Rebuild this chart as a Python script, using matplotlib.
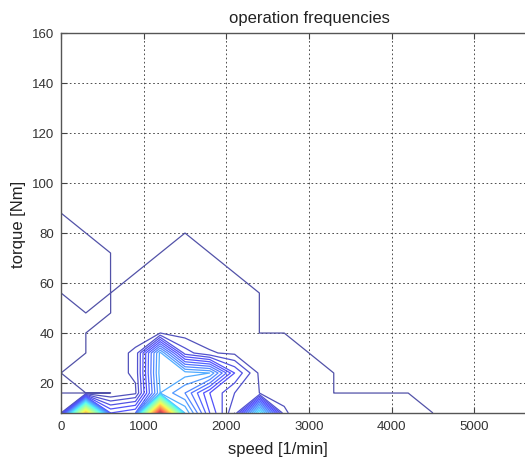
import numpy as np
import matplotlib
matplotlib.use("Agg")
import matplotlib.pyplot as plt

# ---- data -------------------------------------------------------------
speed = np.arange(0, 6001, 300)          # 1/min, grid columns
torque = np.arange(8, 161, 8)            # Nm, grid rows

# operation frequency counts per torque row (one value per speed column)
f_t8  = [2, 30, 6, 7, 40, 12, 6, 2, 15, 2.1, 1.5, 1.5, 1.5, 1.5, 1.5, 1, 0, 0, 0, 0, 0]
f_t16 = [1, 1, 1, 1.8, 11, 9, 5, 3, 2, 1.8, 1.5, 1, 1, 1, 1, 0, 0, 0, 0, 0, 0]
f_t24 = [1, 1.5, 1.5, 2.2, 11.5, 11.5, 11, 5, 1.8, 1.5, 1.5, 1, 0, 0, 0, 0, 0, 0, 0, 0, 0]
f_t32 = [0, 1, 1.5, 2.2, 11.3, 3.5, 2.1, 1.8, 1.5, 1.5, 1, 0, 0, 0, 0, 0, 0, 0, 0, 0, 0]
f_t40 = [0, 1, 1.5, 1.5, 2, 1.5, 1.5, 1.5, 1, 1, 0, 0, 0, 0, 0, 0, 0, 0, 0, 0, 0]
f_t48 = [0, 1, 1, 1.5, 1.5, 1.5, 1.5, 1.5, 1, 0, 0, 0, 0, 0, 0, 0, 0, 0, 0, 0, 0]
f_t56 = [1, 1.5, 1, 1.5, 1.5, 1.5, 1.5, 1.5, 1, 0, 0, 0, 0, 0, 0, 0, 0, 0, 0, 0, 0]
f_t64 = [1.5, 1.5, 1, 1, 1.5, 1.5, 1.5, 1, 0, 0, 0, 0, 0, 0, 0, 0, 0, 0, 0, 0, 0]
f_t72 = [1.5, 1.5, 1, 0, 1, 1.5, 1, 0, 0, 0, 0, 0, 0, 0, 0, 0, 0, 0, 0, 0, 0]
f_t80 = [1.5, 1, 0, 0, 0, 1, 0, 0, 0, 0, 0, 0, 0, 0, 0, 0, 0, 0, 0, 0, 0]
f_t88 = [1, 0, 0, 0, 0, 0, 0, 0, 0, 0, 0, 0, 0, 0, 0, 0, 0, 0, 0, 0, 0]

contour_levels = np.arange(1, 41)

x_ticks = [0, 1000, 2000, 3000, 4000, 5000]
y_ticks = [20, 40, 60, 80, 100, 120, 140, 160]

title_text = "operation frequencies"
x_label = "speed [1/min]"
y_label = "torque [Nm]"

# ---- build matrix -----------------------------------------------------
rows = [f_t8, f_t16, f_t24, f_t32, f_t40, f_t48, f_t56, f_t64, f_t72, f_t80, f_t88]
Z = np.zeros((len(torque), len(speed)))
for j, r in enumerate(rows):
    Z[j, :] = r

# jet colours, slightly washed out like the reference rendering
jet = plt.get_cmap("jet")
fr = (contour_levels - contour_levels[0]) / (contour_levels[-1] - contour_levels[0])
line_colors = [tuple(0.68 * np.array(jet(f)[:3]) + 0.32) for f in fr]

# ---- plot -------------------------------------------------------------
plt.rcParams["font.family"] = ["Liberation Sans", "DejaVu Sans"]
fig = plt.figure(figsize=(5.25, 4.6), dpi=100)
fig.patch.set_facecolor("white")
ax = fig.add_axes([61 / 525, 46 / 460, 496 / 525, 380 / 460])

ax.set_axisbelow(True)
ax.grid(True, linestyle=(0, (2, 3)), color="#333333", linewidth=0.6)

ax.contour(speed, torque, Z, levels=contour_levels + 1e-3, colors=line_colors,
           linewidths=0.9)

ax.set_xlim(0, 6000)
ax.set_ylim(8, 160)
ax.set_xticks(x_ticks)
ax.set_yticks(y_ticks)
ax.tick_params(direction="in", top=True, right=True, length=4, width=0.8,
               color="#444444", labelcolor="#333333", labelsize=9.5, pad=5)
for s in ax.spines.values():
    s.set_color("#555555")
    s.set_linewidth(1.0)

ax.set_title(title_text, fontsize=12, color="#222222", pad=8)
ax.set_xlabel(x_label, fontsize=12, color="#222222")
ax.xaxis.set_label_coords((278 - 61) / 496, -0.075)
ax.set_ylabel(y_label, fontsize=12, color="#222222")
ax.yaxis.set_label_coords(-0.07, 0.5)

fig.savefig("out.png", dpi=100, facecolor="white")
